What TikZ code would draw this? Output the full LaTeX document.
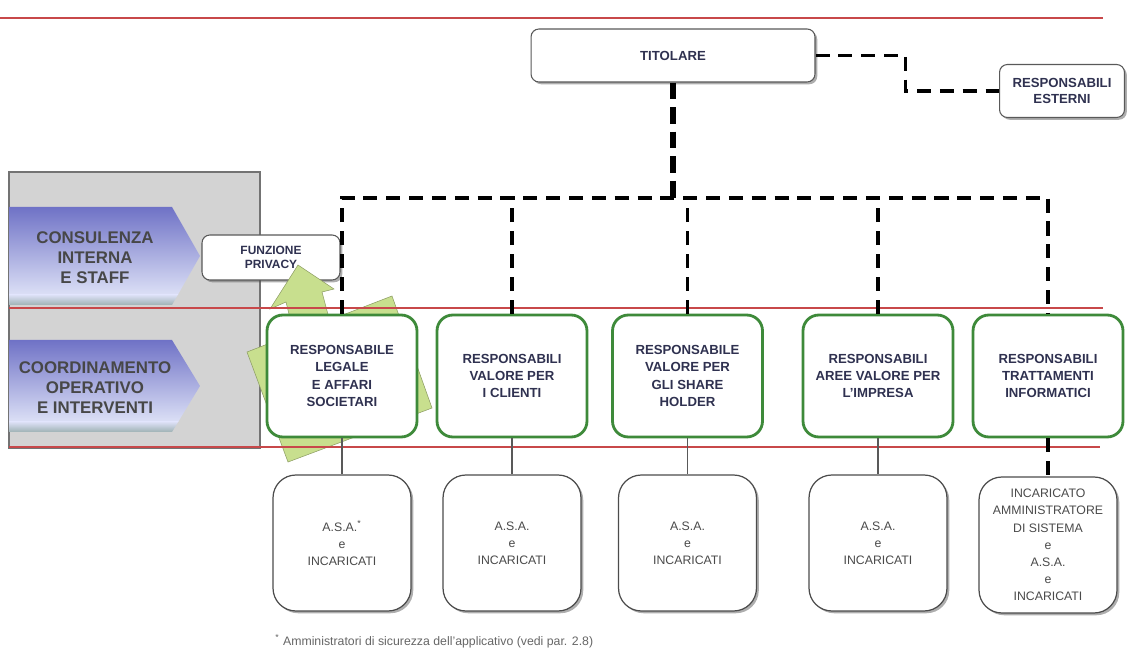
\documentclass[tikz,border=0pt]{standalone}
\usepackage{fontspec}
\setmainfont{Liberation Sans}
\usetikzlibrary{shadows}
\definecolor{redline}{HTML}{C8484A}
\definecolor{boxgreen}{HTML}{3E8A3A}
\definecolor{headtext}{HTML}{2F3150}
\definecolor{lowtext}{HTML}{4A4A4A}
\definecolor{panelgray}{HTML}{D3D3D3}
\definecolor{chevtop}{HTML}{6F72C6}
\definecolor{chevmid}{HTML}{DCE0F6}
\definecolor{chevbot}{HTML}{9FB2B4}
\definecolor{leafgreen}{HTML}{C8DF8E}
\begin{document}
\begin{tikzpicture}[x=0.02cm,y=-0.02cm,
		shadowed/.style={drop shadow={shadow xshift=1.3pt,shadow yshift=-1.3pt,opacity=0.45,fill=black!70}},
		whitebox/.style={draw=black!65,line width=0.6pt,fill=white,rounded corners=4.5pt,shadowed,align=center,inner sep=1pt,font=\fontsize{7.5}{9}\selectfont\bfseries,text=headtext},
		respbox/.style={draw=boxgreen,line width=1.6pt,fill=white,rounded corners=9pt,minimum width=3cm,minimum height=2.44cm,align=center,inner sep=1pt,font=\fontsize{7.5}{9.8}\selectfont\bfseries,text=headtext},
		asabox/.style={draw=black!70,line width=0.7pt,fill=white,rounded corners=13pt,shadowed,minimum width=2.76cm,minimum height=2.72cm,align=center,inner sep=1pt,font=\fontsize{7}{9.8}\selectfont,text=lowtext},
		leaf/.style={fill=leafgreen,draw=leafgreen!70!black,line width=0.3pt},
		bus/.style={line width=1.8pt,dash pattern=on 8pt off 5pt},
		thickbus/.style={line width=3.4pt,dash pattern=on 9.5pt off 4.5pt},
		redrule/.style={draw=redline,line width=1.2pt},
		chevtext/.style={align=center,font=\fontsize{9.6}{11.4}\selectfont\bfseries,text=black!72}]
		\useasboundingbox (0,0) rectangle (1128,661);
		% left panel with the two bands
		\draw[fill=panelgray,draw=black!55,line width=1pt] (9,172) rectangle (260,448);
		\foreach \t/\b in {207/305,340/432}{
			\pgfmathsetmacro{\m}{(\t+\b)/2}
			\pgfmathsetmacro{\s}{\b-10}
			\begin{scope}
				\clip (9,\t) -- (172,\t) -- (200,\m) -- (172,\b) -- (9,\b) -- cycle;
				\shade[top color=chevtop,bottom color=chevmid] (9,\t) rectangle (200,\s);
				\shade[top color=chevmid,bottom color=chevbot] (9,\s) rectangle (200,\b);
			\end{scope}
		}
		\node[chevtext] (staff) at (95,258) {CONSULENZA\\INTERNA\\E STAFF};
		\node[chevtext] (coord) at (95,388) {COORDINAMENTO\\OPERATIVO\\E INTERVENTI};
		\node[whitebox,minimum width=2.76cm,minimum height=0.9cm,font=\fontsize{6.8}{8}\selectfont\bfseries] (priv) at (271,257.5) {FUNZIONE\\PRIVACY};
		% green arrows behind the first box
		\filldraw[leaf] (247,352) -- (288,462) -- (432,408) -- (392,296) -- cycle;
		\filldraw[leaf] (270,309) -- (298,265) -- (334,289) -- (322,292) -- (330,322) -- (292,326) -- (286,302) -- cycle;
		\draw[redrule] (0,18) -- (1103,18);
		\draw[redrule] (9,308) -- (1103,308);
		\draw[redrule] (9,447) -- (1100,447);
		\node[whitebox,minimum width=5.68cm,minimum height=1.06cm] (tit) at (673,55.5) {TITOLARE};
		\node[whitebox,minimum width=2.5cm,minimum height=1.06cm] (est) at (1062,91) {RESPONSABILI\\ESTERNI};
		\node[respbox] (r1) at (342,376) {RESPONSABILE\\LEGALE\\E AFFARI\\SOCIETARI};
		\node[respbox] (r2) at (512,376) {RESPONSABILI\\VALORE PER\\I CLIENTI};
		\node[respbox] (r3) at (687.5,376) {RESPONSABILE\\VALORE PER\\GLI SHARE\\HOLDER};
		\node[respbox] (r4) at (878,376) {RESPONSABILI\\AREE VALORE PER\\L'IMPRESA};
		\node[respbox] (r5) at (1048,376) {RESPONSABILI\\TRATTAMENTI\\INFORMATICI};
		\node[asabox] (a1) at (342,543) {A.S.A.\textsuperscript{*}\\e\\INCARICATI};
		\node[asabox] (a2) at (512,543) {A.S.A.\\e\\INCARICATI};
		\node[asabox] (a3) at (687.5,543) {A.S.A.\\e\\INCARICATI};
		\node[asabox] (a4) at (878,543) {A.S.A.\\e\\INCARICATI};
		\node[asabox] (a5) at (1048,545) {INCARICATO\\AMMINISTRATORE\\DI SISTEMA\\e\\A.S.A.\\e\\INCARICATI};
		% dashed links
		\coordinate (bus) at (673,198);
		\draw[thickbus] (tit.south) -- (bus);
		\draw[bus] (r1.north) |- (r5.north |- bus) -- (r5.north);
		\foreach \r in {r2,r3,r4}
			\draw[bus] (\r.north) -- (\r.north |- bus);
		\draw[bus] (tit.east) -- ++(90,0) |- (est.west);
		\foreach \n in {1,...,4}
			\draw[black!65,line width=0.6pt] (r\n.south) -- (a\n.north);
		\draw[thickbus,line width=2.6pt,dash pattern=on 8pt off 5pt] (r5.south) -- (a5.north);
		\node[anchor=west,inner sep=0,font=\fontsize{7}{8}\selectfont,text=black!60] (note) at (275,641) {\textsuperscript{*} Amministratori di sicurezza dell'applicativo (vedi par. 2.8)};
	\end{tikzpicture}
\end{document}
